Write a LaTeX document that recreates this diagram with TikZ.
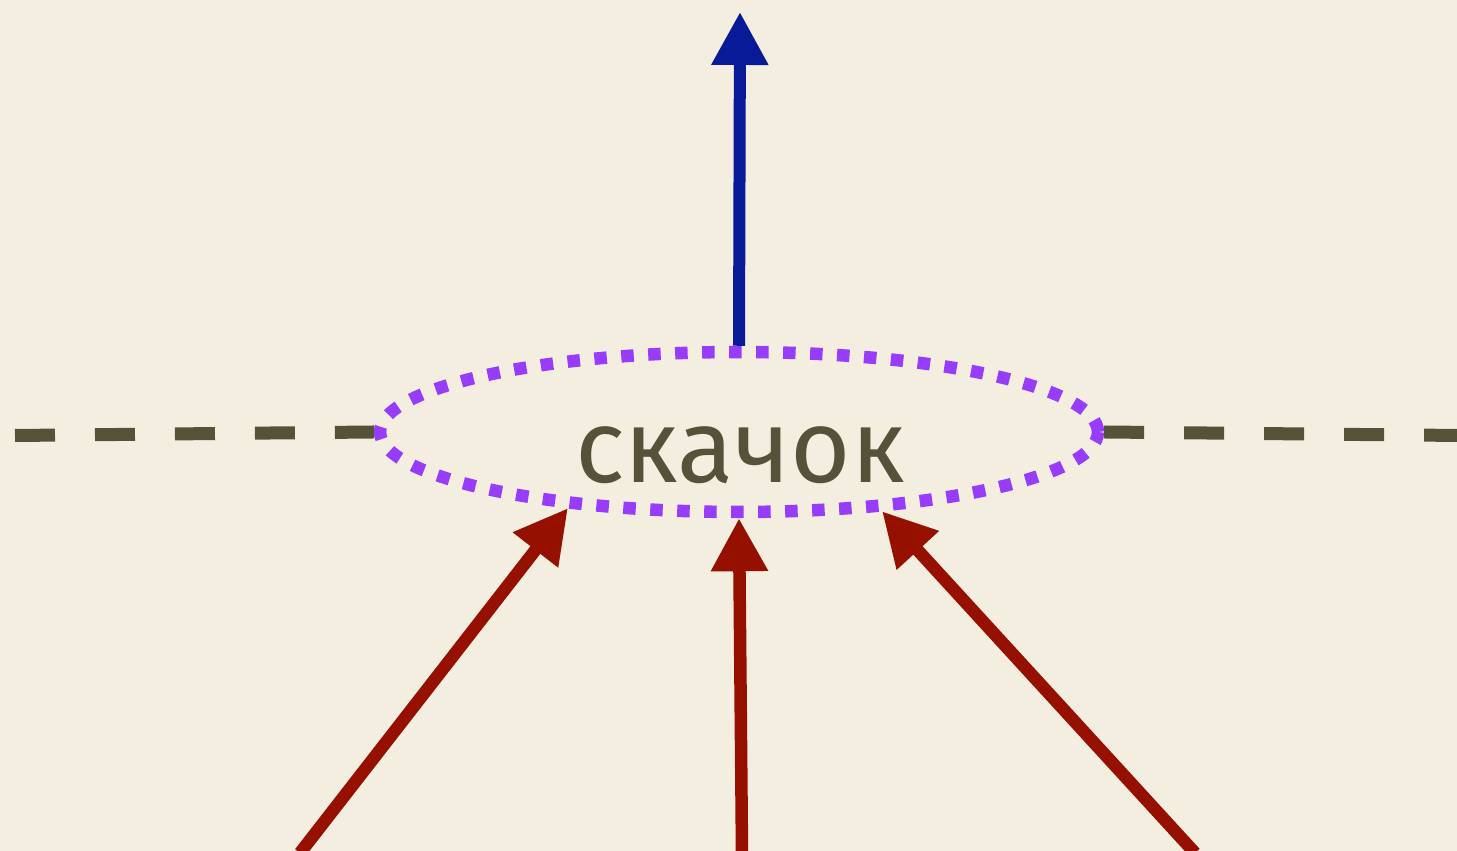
\documentclass[tikz,border=0pt]{standalone}
\usepackage{fontspec}
\setmainfont{Fira Sans}
\usepackage{tikz}
\usetikzlibrary{arrows.meta,shapes.geometric}
\definecolor{paper}{RGB}{243,238,223}
\definecolor{ink}{RGB}{85,82,58}
\definecolor{vio}{RGB}{150,60,250}
\definecolor{rust}{RGB}{150,16,0}
\definecolor{navy}{RGB}{8,26,152}
\tikzset{
  ring/.style={ellipse,draw=vio,line width=0.25cm,dash pattern=on 0.25cm off 0.29cm,
    minimum width=14.36cm,minimum height=3.2cm,inner sep=0pt},
  divide/.style={draw=ink,line width=0.26cm,dash pattern=on 0.8cm off 0.8cm},
  rise/.style={-{Triangle[length=1.06cm,width=1.08cm]},line width=0.24cm,draw=navy},
  push/.style={-{Triangle[length=1.06cm,width=1.08cm]},line width=0.25cm,draw=rust},
  word/.style={text=ink,font=\fontsize{59}{70}\selectfont,inner sep=0pt,anchor=base},
}
\begin{document}
\begin{tikzpicture}[x=0.02cm,y=0.02cm]
% paper
\useasboundingbox (0,0) rectangle (1457,851);
\clip (0,0) rectangle (1457,851);
\fill[paper] (0,0) rectangle (1457,851);

% --- the jump ---
\node[ring] (jump) at (739,419) {};
\node[word] (label) at (740,368) {скачок};

% --- horizontal boundary ---
\coordinate (wl) at (15,415.5);
\coordinate (wr) at (1460,415.5);
\draw[divide] (wl) -- (jump.west);
\draw[divide] (jump.east) -- (wr);

% --- outgoing ---
\coordinate (up) at (740,839);
\draw[rise] (jump.north) -- (up);

% --- incoming ---
\coordinate (inl) at (300,-2);
\coordinate (inm) at (742,-2);
\coordinate (inr) at (1195,-2);
\draw[push] (inl) -- (jump.204);
\draw[push] (inm) -- (jump.south);
\draw[push] (inr) -- (jump.331);
\end{tikzpicture}
\end{document}
